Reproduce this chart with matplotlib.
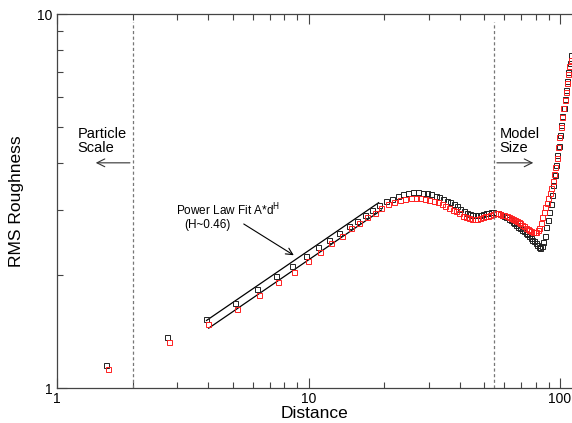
#rms roughness vs distance, two runs plus power law fits
import matplotlib
matplotlib.use('Agg')
import matplotlib.pyplot as plt
from matplotlib.ticker import NullFormatter

plt.rcParams['font.family'] = ['Liberation Sans', 'DejaVu Sans']

#lag distances of the roughness samples
distance = [1.57, 2.74, 3.91, 5.08, 6.25, 7.42, 8.59, 9.76, 10.93, 12.10,
            13.27, 14.44, 15.61, 16.78, 17.95, 19.12, 20.29, 21.46, 22.63, 23.80,
            24.97, 26.14, 27.31, 28.48, 29.65, 30.82, 31.99, 33.16, 34.33, 35.50,
            36.67, 37.84, 39.01, 40.18, 41.35, 42.52, 43.69, 44.86, 46.03, 47.20,
            48.37, 49.54, 50.71, 51.88, 53.05, 54.22, 55.39, 56.56, 57.73, 58.90,
            60.07, 61.24, 62.41, 63.58, 64.75, 65.92, 67.09, 68.26, 69.43, 70.60,
            71.77, 72.94, 74.11, 75.28, 76.45, 77.62, 78.79, 79.96, 81.13, 82.30,
            83.47, 84.64, 85.81, 86.98, 88.15, 89.32, 90.49, 91.66, 92.83, 94.00,
            95.17, 96.34, 97.51, 98.68, 99.85, 101.02, 102.19, 103.36, 104.53, 105.70,
            106.87, 108.04, 109.21, 110.38]

rms_black = [1.154, 1.368, 1.532, 1.687, 1.84, 1.99, 2.12, 2.254, 2.378, 2.483,
             2.602, 2.710, 2.796, 2.896, 2.999, 3.079, 3.164, 3.209, 3.259, 3.298,
             3.326, 3.349, 3.347, 3.332, 3.313, 3.293, 3.263, 3.237, 3.203, 3.171,
             3.135, 3.098, 3.066, 3.01, 2.973, 2.937, 2.912, 2.901, 2.900, 2.901,
             2.910, 2.924, 2.937, 2.944, 2.950, 2.948, 2.942, 2.933, 2.917, 2.900,
             2.882, 2.857, 2.831, 2.805, 2.783, 2.754, 2.729, 2.702, 2.672, 2.646,
             2.621, 2.595, 2.573, 2.549, 2.519, 2.493, 2.467, 2.439, 2.409, 2.382,
             2.367, 2.404, 2.464, 2.549, 2.695, 2.813, 2.955, 3.11, 3.29, 3.49,
             3.70, 3.94, 4.20, 4.45, 4.74, 5.05, 5.33, 5.62, 5.93, 6.26,
             6.62, 7.0, 7.38, 7.75]

rms_red = [1.122, 1.327, 1.483, 1.623, 1.77, 1.917, 2.047, 2.18, 2.31, 2.44,
           2.55, 2.67, 2.77, 2.860, 2.944, 3.025, 3.102, 3.152, 3.185, 3.207,
           3.221, 3.227, 3.221, 3.206, 3.188, 3.164, 3.137, 3.107, 3.071, 3.037,
           3.001, 2.972, 2.937, 2.884, 2.858, 2.841, 2.832, 2.831, 2.834, 2.848,
           2.857, 2.875, 2.892, 2.910, 2.921, 2.930, 2.929, 2.919, 2.910, 2.901,
           2.885, 2.869, 2.852, 2.834, 2.813, 2.793, 2.773, 2.754, 2.731, 2.707,
           2.686, 2.666, 2.646, 2.630, 2.618, 2.610, 2.610, 2.640, 2.686, 2.762,
           2.857, 2.960, 3.039, 3.114, 3.221, 3.322, 3.426, 3.566, 3.734, 3.899,
           4.121, 4.40, 4.69, 5.0, 5.3, 5.6, 5.9, 6.2, 6.55, 6.9,
           7.25, 7.55]
red_shift = 1.02  #second run sampled slightly further out
red_distance = [d * red_shift for d in distance[:len(rms_red)]]

#power law fits A*d^H
H = 0.46
fit_upper = (0.8075, 3.93, 19.0)  #A, d_min, d_max
fit_lower = (0.763, 4.01, 19.5)

particle_scale = 2.0
model_size = 54.7

fig = plt.figure(figsize=(5.72, 4.23), dpi=100)
ax = fig.add_axes([57 / 572, 35 / 423, 515 / 572, 374 / 423])

for A, d0, d1 in (fit_upper, fit_lower):
    d = [d0, d1]
    ax.plot(d, [A * v ** H for v in d], color='k', lw=0.9)

ax.plot(distance, rms_black, ls='none', marker='s', ms=3.6, mfc='none',
        mec='#222222', mew=0.7)
ax.plot(red_distance, rms_red, ls='none', marker='s', ms=3.6, mfc='none',
        mec='#ff2020', mew=0.7)

for xv in (particle_scale, model_size):
    ax.plot([xv, xv], [1.0, 9.5], color='#777777', lw=0.9, ls=(0, (2.5, 2)))

arrow = dict(arrowstyle='->', color='#333333', lw=0.8, mutation_scale=14)
ax.annotate('', xy=(1.39, 4.0), xytext=(particle_scale, 4.0), arrowprops=arrow)
ax.annotate('', xy=(80.3, 4.0), xytext=(model_size, 4.0), arrowprops=arrow)
ax.text(1.21, 5.0, 'Particle\nScale', fontsize=10.5, va='top', ha='left',
        linespacing=1.0)
ax.text(57.6, 5.0, 'Model\nSize', fontsize=10.5, va='top', ha='left',
        linespacing=1.0)

ax.text(2.98, 2.889, 'Power Law Fit A*d$^{\\rm H}$', fontsize=8.5, va='baseline')
ax.text(3.22, 2.684, '(H~%.2f)' % H, fontsize=8.5, va='baseline')
ax.annotate('', xy=(8.93, 2.244), xytext=(5.41, 2.77),
            arrowprops=dict(arrowstyle='->', color='k', lw=0.8, mutation_scale=12))

ax.set_xscale('log')
ax.set_yscale('log')
ax.set_xlim(1, 111.6)
ax.set_ylim(1, 10)
ax.set_xticks([1, 10, 100])
ax.set_xticklabels(['1', '10', '100'])
ax.set_yticks([1, 10])
ax.set_yticklabels(['1', '10'])
ax.xaxis.set_minor_formatter(NullFormatter())
ax.yaxis.set_minor_formatter(NullFormatter())
ax.tick_params(which='both', direction='in', top=True, right=False, labelsize=10,
               color='#444444', pad=3)
ax.tick_params(which='major', length=7, width=0.8)
ax.tick_params(which='minor', length=4, width=0.8)
ax.spines['right'].set_visible(False)
for s in ('left', 'bottom', 'top'):
    ax.spines[s].set_color('#444444')
    ax.spines[s].set_linewidth(0.9)

ax.set_xlabel('Distance', fontsize=12.5, labelpad=0)
ax.set_ylabel('RMS Roughness', fontsize=12.5, labelpad=10)

plt.savefig('out.png', dpi=100)
